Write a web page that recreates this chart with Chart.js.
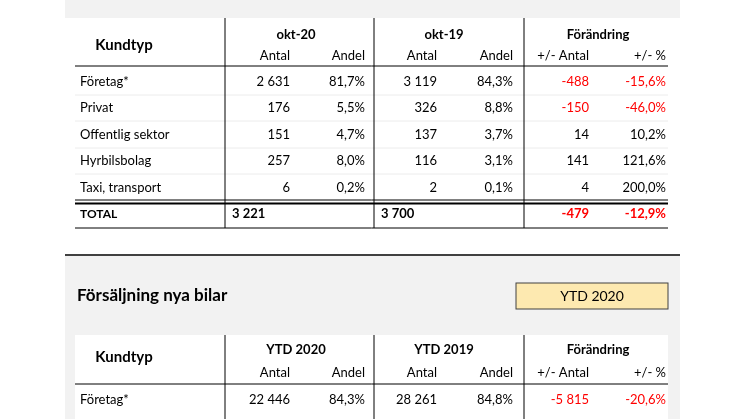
<!DOCTYPE html>
<html>
<head>
<meta charset="utf-8">
<script src="https://cdn.jsdelivr.net/npm/chart.js@4/dist/chart.umd.min.js"></script>
<style>
  html, body { margin: 0; padding: 0; background: #fff; }
  canvas { display: block; }
</style>
</head>
<body>
<canvas id="tbl" width="746" height="419"></canvas>
<script>
// Data for the month table
const kundtyper = ['Företag*', 'Privat', 'Offentlig sektor', 'Hyrbilsbolag', 'Taxi, transport'];
const okt20Antal = [2631, 176, 151, 257, 6];
const okt20Andel = [81.7, 5.5, 4.7, 8.0, 0.2];
const okt19Antal = [3119, 326, 137, 116, 2];
const okt19Andel = [84.3, 8.8, 3.7, 3.1, 0.1];
const diffAntal = [-488, -150, 14, 141, 4];
const diffPct = [-15.6, -46.0, 10.2, 121.6, 200.0];
const totals = [3221, 3700, -479, -12.9];

// Data for the YTD table (first row only visible)
const ytdKundtyp = ['Företag*'];
const ytd20Antal = [22446];
const ytd20Andel = [84.3];
const ytd19Antal = [28261];
const ytd19Andel = [84.8];
const ytdDiff = [-5815];
const ytdPct = [-20.6];

const FONT = 'Lato, "Liberation Sans", sans-serif';

function fmtInt(v) {
    const s = Math.abs(v).toString().replace(/\B(?=(\d{3})+(?!\d))/g, ' ');
    return (v < 0 ? '-' : '') + s;
}
function fmtPct(v) {
    return v.toFixed(1).replace('.', ',') + '%';
}

// Draws the table through the chart's own x/y scales
const tablePlugin = {
    id: 'tablePlugin',
    afterDraw(chart) {
        const c = chart.ctx;
        const X = v => chart.scales.x.getPixelForValue(v);
        const Y = v => chart.scales.y.getPixelForValue(v);

        function rect(x0, y0, x1, y1, fill) {
            c.fillStyle = fill;
            c.fillRect(X(x0), Y(y0), X(x1) - X(x0), Y(y1) - Y(y0));
        }
        function hline(x0, x1, y, w, col) {
            c.strokeStyle = col; c.lineWidth = w;
            c.beginPath(); c.moveTo(X(x0), Y(y)); c.lineTo(X(x1), Y(y)); c.stroke();
        }
        function vline(x, y0, y1, w, col) {
            c.strokeStyle = col; c.lineWidth = w;
            c.beginPath(); c.moveTo(X(x), Y(y0)); c.lineTo(X(x), Y(y1)); c.stroke();
        }
        function text(t, x, y, align, opts) {
            opts = opts || {};
            c.font = (opts.bold ? 'bold ' : '') + (opts.size || 13) + 'px ' + FONT;
            c.fillStyle = opts.color || '#000';
            c.textAlign = align;
            c.textBaseline = 'middle';
            c.fillText(t, X(x), Y(y));
        }
        const red = v => v < 0 ? '#ff0000' : '#000';
        const cols = [290, 365, 437, 513, 589, 666];

        // top grey band
        rect(65, 0, 680, 18, '#f2f2f2');

        // header block 1
        text('Kundtyp', 124, 45, 'center', { bold: true, size: 15 });
        text('okt-20', 296, 35, 'center', { bold: true });
        text('okt-19', 444, 35, 'center', { bold: true });
        text('Förändring', 598, 35, 'center', { bold: true });
        const sub = ['Antal', 'Andel', 'Antal', 'Andel', '+/- Antal', '+/- %'];
        sub.forEach((s, i) => text(s, cols[i], 56, 'right'));
        hline(75, 668, 66, 1, '#000');

        const rowY = [82, 108, 135, 161, 188];
        kundtyper.forEach((k, i) => {
            const y = rowY[i];
            text(k, 80, y, 'left');
            text(fmtInt(okt20Antal[i]), cols[0], y, 'right');
            text(fmtPct(okt20Andel[i]), cols[1], y, 'right');
            text(fmtInt(okt19Antal[i]), cols[2], y, 'right');
            text(fmtPct(okt19Andel[i]), cols[3], y, 'right');
            text(fmtInt(diffAntal[i]), cols[4], y, 'right', { color: red(diffAntal[i]) });
            text(fmtPct(diffPct[i]), cols[5], y, 'right', { color: red(diffPct[i]) });
            if (i < kundtyper.length - 1) hline(75, 668, y + 13, 1, '#ececec');
        });
        hline(75, 668, 200, 1, '#000');
        hline(75, 668, 203.5, 2, '#000');
        text('TOTAL', 80, 214, 'left', { bold: true, size: 12 });
        text(fmtInt(totals[0]), 232, 214, 'left', { bold: true, size: 13 });
        text(fmtInt(totals[1]), 381, 214, 'left', { bold: true, size: 13 });
        text(fmtInt(totals[2]), cols[4], 214, 'right', { bold: true, size: 13, color: red(totals[2]) });
        text(fmtPct(totals[3]), cols[5], 214, 'right', { bold: true, size: 13, color: red(totals[3]) });
        hline(75, 668, 228, 1, '#000');
        [225, 374, 524].forEach(x => vline(x, 18, 228, 1, '#000'));

        // second section
        rect(65, 255, 680, 419, '#f2f2f2');
        hline(65, 680, 255, 2, '#404040');
        text('Försäljning nya bilar', 77, 296, 'left', { bold: true, size: 17 });
        rect(516, 283, 668, 309, '#fde9b0');
        c.strokeStyle = '#404040'; c.lineWidth = 1;
        c.strokeRect(X(516), Y(283), X(668) - X(516), Y(309) - Y(283));
        text('YTD 2020', 592, 296, 'center', { size: 14 });

        rect(75, 335, 668, 419, '#fff');
        text('Kundtyp', 124, 357, 'center', { bold: true, size: 15 });
        text('YTD 2020', 296, 350, 'center', { bold: true });
        text('YTD 2019', 444, 350, 'center', { bold: true });
        text('Förändring', 598, 350, 'center', { bold: true });
        sub.forEach((s, i) => text(s, cols[i], 373, 'right'));
        hline(75, 668, 384, 1, '#000');
        ytdKundtyp.forEach((k, i) => {
            const y = 400;
            text(k, 80, y, 'left');
            text(fmtInt(ytd20Antal[i]), cols[0], y, 'right');
            text(fmtPct(ytd20Andel[i]), cols[1], y, 'right');
            text(fmtInt(ytd19Antal[i]), cols[2], y, 'right');
            text(fmtPct(ytd19Andel[i]), cols[3], y, 'right');
            text(fmtInt(ytdDiff[i]), cols[4], y, 'right', { color: red(ytdDiff[i]) });
            text(fmtPct(ytdPct[i]), cols[5], y, 'right', { color: red(ytdPct[i]) });
        });
        [225, 374, 524].forEach(x => vline(x, 335, 419, 1, '#000'));
    }
};

new Chart(document.getElementById('tbl'), {
    type: 'scatter',
    data: { datasets: [{ data: [], pointRadius: 0 }] },
    options: {
        responsive: false,
        devicePixelRatio: 1,
        animation: false,
        layout: { padding: 0 },
        plugins: { legend: { display: false }, tooltip: { enabled: false } },
        scales: {
            x: { type: 'linear', min: 0, max: 746, display: false },
            y: { type: 'linear', min: 0, max: 419, reverse: true, display: false }
        }
    },
    plugins: [tablePlugin]
});
</script>
</body>
</html>
